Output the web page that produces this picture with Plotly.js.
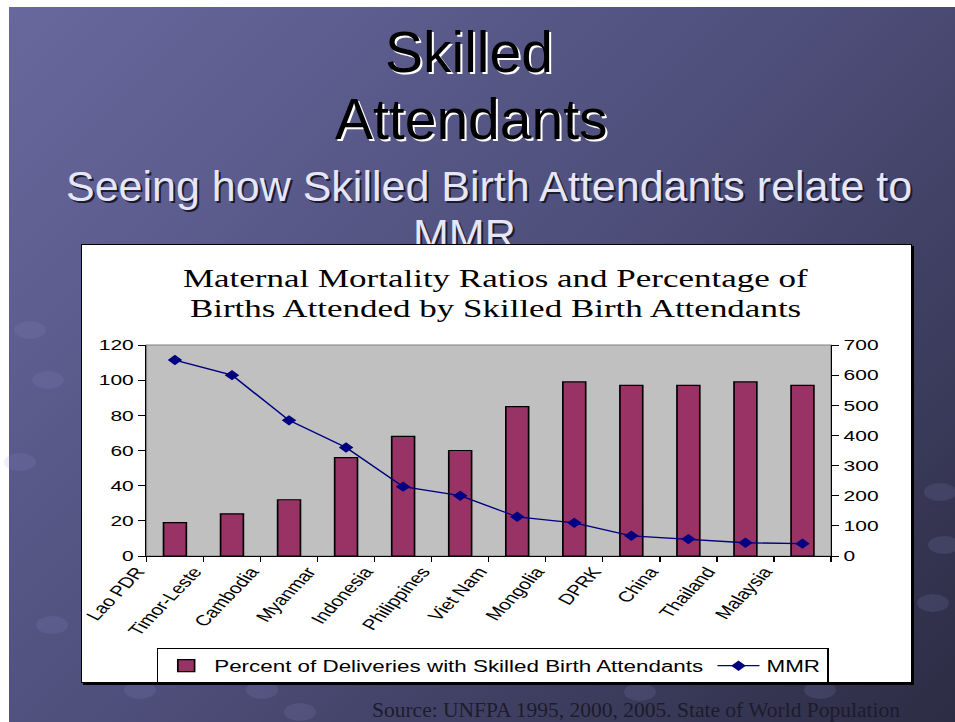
<!DOCTYPE html>
<html>
<head>
<meta charset="utf-8">
<script src="https://cdn.plot.ly/plotly-3.0.1.min.js"></script>
<style>
  html, body { margin: 0; padding: 0; background: #ffffff; width: 955px; height: 722px; overflow: hidden; }
  #slide { position: absolute; left: 9px; top: 7px; width: 946px; height: 715px;
           background: linear-gradient(135deg, #68689e 0%, #4e4e7a 50%, #2c2c44 100%); }
  #deco { position: absolute; left: 0; top: 0; width: 955px; height: 722px; }
  #frame { position: absolute; left: 81px; top: 244px; width: 829px; height: 437px;
           border: 1px solid #000; box-shadow: 2px 2px 0 #000; background: #fff; overflow: hidden; }
  /* the reference chart is a horizontally stretched picture of the chart */
  #chart { width: 592px; height: 437px; transform: scaleX(1.4); transform-origin: 0 0; }
</style>
</head>
<body>
<div id="slide"></div>
<div id="deco"></div>
<div id="frame"><div id="chart"></div></div>
<script>
// ---- data ----
const countries = ["Lao PDR", "Timor-Leste", "Cambodia", "Myanmar", "Indonesia", "Philippines",
                   "Viet Nam", "Mongolia", "DPRK", "China", "Thailand", "Malaysia"];
const skilledPct = [19, 24, 32, 56, 68, 60, 85, 99, 97, 97, 99, 97];
const mmr = [650, 600, 450, 360, 230, 200, 130, 110, 67, 56, 44, 41];
const leftTicks = [0, 20, 40, 60, 80, 100, 120];
const rightTicks = [0, 100, 200, 300, 400, 500, 600, 700];
const barName = "Percent of Deliveries with Skilled Birth Attendants";
const lineName = "MMR";
const chartTitle1 = "Maternal Mortality Ratios and Percentage of";
const chartTitle2 = "Births Attended by Skilled Birth Attendants";
const slideTitle1 = "Skilled";
const slideTitle2 = "Attendants";
const subTitle1 = "Seeing how Skilled Birth Attendants relate to";
const subTitle2 = "MMR…";
const sourceText = "Source: UNFPA 1995, 2000, 2005. State of World Population";

// ---- slide (background text) ----
const sans = "Liberation Sans, Arial, sans-serif";
const serif = "Liberation Serif, Times New Roman, serif";
function shadowed(text, x, y, size, color, shadow, family) {
  return [
    {x: x + 2, y: y + 2, text: text, showarrow: false, xanchor: "center", yanchor: "middle",
     font: {family: family, size: size, color: shadow}},
    {x: x, y: y, text: text, showarrow: false, xanchor: "center", yanchor: "middle",
     font: {family: family, size: size, color: color}}
  ];
}
const circles = [[30, 330], [48, 380], [20, 462], [52, 625], [140, 690], [262, 690],
                 [640, 692], [820, 690], [940, 492], [944, 545], [933, 603], [300, 712]];
const decoShapes = circles.map(c => ({
  type: "circle", xref: "x", yref: "y",
  x0: c[0] - 16, x1: c[0] + 16, y0: c[1] - 9, y1: c[1] + 9,
  fillcolor: "rgba(150,150,210,0.15)", line: {width: 0}, layer: "below"
}));
const slideAnn = [].concat(
  shadowed(slideTitle1, 469, 52, 57, "#000000", "#ffffff", sans),
  shadowed(slideTitle2, 471, 119, 57, "#000000", "#ffffff", sans),
  shadowed(subTitle1, 489, 186, 43, "#e6e6f6", "#1a1a30", sans),
  shadowed(subTitle2, 486, 234, 43, "#e6e6f6", "#1a1a30", sans),
  [{x: 636, y: 710, text: sourceText, showarrow: false, xanchor: "center", yanchor: "middle",
    font: {family: serif, size: 21.5, color: "#1c1c2c"}}]
);
Plotly.newPlot("deco", [], {
  width: 955, height: 722,
  margin: {l: 0, r: 0, t: 0, b: 0},
  paper_bgcolor: "rgba(0,0,0,0)", plot_bgcolor: "rgba(0,0,0,0)",
  xaxis: {range: [0, 955], visible: false, fixedrange: true},
  yaxis: {range: [722, 0], visible: false, fixedrange: true},
  shapes: decoShapes,
  annotations: slideAnn,
  showlegend: false
}, {staticPlot: true});

// ---- chart ----
const traces = [
  {
    type: "bar", x: countries, y: skilledPct, name: barName, yaxis: "y",
    marker: {color: "#993366", line: {color: "#000000", width: 1.2}}
  },
  {
    type: "scatter", mode: "lines+markers", x: countries, y: mmr, name: lineName, yaxis: "y2",
    line: {color: "#000080", width: 1.3},
    marker: {symbol: "diamond", size: 8, color: "#000080"}
  }
];
const tickFont = {family: sans, size: 15, color: "#000000"};
const layout = {
  width: 592, height: 437,
  margin: {l: 46, r: 57, t: 100, b: 126, autoexpand: false},
  paper_bgcolor: "#ffffff", plot_bgcolor: "#c0c0c0",
  bargap: 0.6,
  annotations: [
    {xref: "paper", yref: "paper", x: 0.511, y: 1.3175, text: chartTitle1, showarrow: false,
     xanchor: "center", yanchor: "middle", font: {family: serif, size: 25, color: "#000000"}},
    {xref: "paper", yref: "paper", x: 0.511, y: 1.175, text: chartTitle2, showarrow: false,
     xanchor: "center", yanchor: "middle", font: {family: serif, size: 25, color: "#000000"}}
  ],
  xaxis: {
    type: "category", range: [-0.5, countries.length - 0.5],
    showline: true, linecolor: "#000000", linewidth: 1,
    ticks: "outside", ticklen: 5, tickcolor: "#000000", tickson: "boundaries",
    tickangle: -55, tickfont: {family: sans, size: 15, color: "#000000"},
    ticklabelshift: -27, showgrid: false, zeroline: false, fixedrange: true, automargin: false
  },
  yaxis: {
    range: [0, 120], tickvals: leftTicks, showline: true, linecolor: "#000000", linewidth: 1,
    ticks: "outside", ticklen: 5, tickcolor: "#000000", tickfont: tickFont,
    showgrid: false, zeroline: false, fixedrange: true, automargin: false
  },
  yaxis2: {
    range: [0, 700], tickvals: rightTicks, overlaying: "y", side: "right",
    showline: true, linecolor: "#000000", linewidth: 1,
    ticks: "outside", ticklen: 5, tickcolor: "#000000", tickfont: tickFont,
    showgrid: false, zeroline: false, fixedrange: true, automargin: false
  },
  shapes: [{type: "rect", xref: "paper", yref: "paper", x0: 0, x1: 1, y0: 0, y1: 1,
            line: {color: "#808080", width: 1}, layer: "below"}],
  showlegend: true,
  legend: {
    orientation: "h", x: 0.506, xanchor: "center", y: -0.435, yanchor: "top",
    bgcolor: "#ffffff", bordercolor: "#000000", borderwidth: 1,
    font: {family: sans, size: 16, color: "#000000"}
  }
};
Plotly.newPlot("chart", traces, layout, {staticPlot: true});
</script>
</body>
</html>
